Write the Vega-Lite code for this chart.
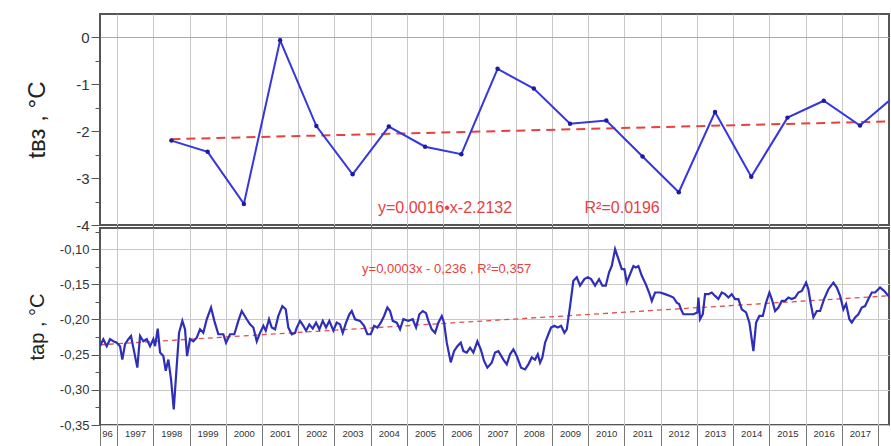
{
"$schema": "https://vega.github.io/schema/vega-lite/v6.json",
"padding": {"left": 24, "top": 13, "right": 0, "bottom": 0},
"bounds": "flush",
"spacing": 3,
"config": {
  "font": "Liberation Sans",
  "view": {"stroke": "#555", "strokeWidth": 2},
  "axis": {"domain": false, "labelColor": "#333", "titleColor": "#222", "gridColor": "#c8c8c8", "tickColor": "#555", "labelFont": "Liberation Sans", "titleFont": "Liberation Sans", "titleFontWeight": "normal", "labelOverlap": false}
},
"datasets": {
  "annual": [
    {"x": 1998.5, "t": -2.20}, {"x": 1999.5, "t": -2.44}, {"x": 2000.5, "t": -3.55}, {"x": 2001.5, "t": -0.06},
    {"x": 2002.5, "t": -1.89}, {"x": 2003.5, "t": -2.92}, {"x": 2004.5, "t": -1.90}, {"x": 2005.5, "t": -2.33},
    {"x": 2006.5, "t": -2.49}, {"x": 2007.5, "t": -0.67}, {"x": 2008.5, "t": -1.09}, {"x": 2009.5, "t": -1.84},
    {"x": 2010.5, "t": -1.77}, {"x": 2011.5, "t": -2.54}, {"x": 2012.5, "t": -3.30}, {"x": 2013.5, "t": -1.59},
    {"x": 2014.5, "t": -2.97}, {"x": 2015.5, "t": -1.71}, {"x": 2016.5, "t": -1.35}, {"x": 2017.5, "t": -1.88},
    {"x": 2018.5, "t": -1.22}
  ],
  "trend1": [{"x": 1998.5, "t": -2.17}, {"x": 2018.5, "t": -1.787}],
  "trend2": [{"x": 1996.53, "v": -0.236}, {"x": 2018.5, "v": -0.1657}],
  "monthly": [
    {"x": 1996.531, "v": -0.2377}, {"x": 1996.622, "v": -0.228}, {"x": 1996.716, "v": -0.238}, {"x": 1996.807, "v": -0.228},
    {"x": 1996.898, "v": -0.231}, {"x": 1996.992, "v": -0.233}, {"x": 1997.083, "v": -0.238}, {"x": 1997.146, "v": -0.257},
    {"x": 1997.221, "v": -0.235}, {"x": 1997.312, "v": -0.228}, {"x": 1997.386, "v": -0.2235}, {"x": 1997.450, "v": -0.240},
    {"x": 1997.560, "v": -0.2685}, {"x": 1997.635, "v": -0.2235}, {"x": 1997.726, "v": -0.231}, {"x": 1997.820, "v": -0.228},
    {"x": 1997.911, "v": -0.238}, {"x": 1998.002, "v": -0.228}, {"x": 1998.049, "v": -0.238}, {"x": 1998.123, "v": -0.213},
    {"x": 1998.187, "v": -0.247}, {"x": 1998.278, "v": -0.252}, {"x": 1998.344, "v": -0.273}, {"x": 1998.416, "v": -0.257},
    {"x": 1998.490, "v": -0.285}, {"x": 1998.565, "v": -0.328}, {"x": 1998.647, "v": -0.266}, {"x": 1998.711, "v": -0.219},
    {"x": 1998.802, "v": -0.202}, {"x": 1998.876, "v": -0.214}, {"x": 1998.932, "v": -0.252}, {"x": 1999.014, "v": -0.228},
    {"x": 1999.105, "v": -0.231}, {"x": 1999.199, "v": -0.226}, {"x": 1999.290, "v": -0.214}, {"x": 1999.381, "v": -0.219},
    {"x": 1999.475, "v": -0.1997}, {"x": 1999.594, "v": -0.183}, {"x": 1999.685, "v": -0.202}, {"x": 1999.795, "v": -0.221},
    {"x": 1999.933, "v": -0.221}, {"x": 2000.008, "v": -0.233}, {"x": 2000.118, "v": -0.221}, {"x": 2000.237, "v": -0.221},
    {"x": 2000.347, "v": -0.202}, {"x": 2000.441, "v": -0.188}, {"x": 2000.579, "v": -0.1997}, {"x": 2000.670, "v": -0.207},
    {"x": 2000.761, "v": -0.2115}, {"x": 2000.855, "v": -0.231}, {"x": 2000.946, "v": -0.219}, {"x": 2001.037, "v": -0.209},
    {"x": 2001.103, "v": -0.216}, {"x": 2001.194, "v": -0.1997}, {"x": 2001.269, "v": -0.2115}, {"x": 2001.360, "v": -0.214},
    {"x": 2001.451, "v": -0.195}, {"x": 2001.561, "v": -0.181}, {"x": 2001.655, "v": -0.1855}, {"x": 2001.727, "v": -0.2115},
    {"x": 2001.821, "v": -0.221}, {"x": 2001.912, "v": -0.219}, {"x": 2001.959, "v": -0.2115}, {"x": 2002.050, "v": -0.202},
    {"x": 2002.141, "v": -0.209}, {"x": 2002.215, "v": -0.216}, {"x": 2002.306, "v": -0.207}, {"x": 2002.400, "v": -0.213},
    {"x": 2002.491, "v": -0.2045}, {"x": 2002.582, "v": -0.214}, {"x": 2002.676, "v": -0.202}, {"x": 2002.767, "v": -0.2115},
    {"x": 2002.858, "v": -0.202}, {"x": 2002.969, "v": -0.216}, {"x": 2003.062, "v": -0.2045}, {"x": 2003.153, "v": -0.207},
    {"x": 2003.228, "v": -0.219}, {"x": 2003.319, "v": -0.2045}, {"x": 2003.410, "v": -0.1926}, {"x": 2003.476, "v": -0.188},
    {"x": 2003.567, "v": -0.1997}, {"x": 2003.705, "v": -0.202}, {"x": 2003.816, "v": -0.209}, {"x": 2003.907, "v": -0.221},
    {"x": 2004.001, "v": -0.221}, {"x": 2004.092, "v": -0.209}, {"x": 2004.183, "v": -0.2115}, {"x": 2004.277, "v": -0.2045},
    {"x": 2004.368, "v": -0.195}, {"x": 2004.459, "v": -0.183}, {"x": 2004.533, "v": -0.188}, {"x": 2004.608, "v": -0.202},
    {"x": 2004.718, "v": -0.2045}, {"x": 2004.809, "v": -0.214}, {"x": 2004.900, "v": -0.1997}, {"x": 2005.038, "v": -0.202},
    {"x": 2005.159, "v": -0.1997}, {"x": 2005.251, "v": -0.2115}, {"x": 2005.342, "v": -0.1926}, {"x": 2005.436, "v": -0.188},
    {"x": 2005.527, "v": -0.191}, {"x": 2005.590, "v": -0.202}, {"x": 2005.684, "v": -0.214}, {"x": 2005.775, "v": -0.219},
    {"x": 2005.866, "v": -0.2045}, {"x": 2005.960, "v": -0.195}, {"x": 2006.023, "v": -0.2045}, {"x": 2006.098, "v": -0.233},
    {"x": 2006.208, "v": -0.261}, {"x": 2006.299, "v": -0.245}, {"x": 2006.390, "v": -0.238}, {"x": 2006.484, "v": -0.233},
    {"x": 2006.556, "v": -0.245}, {"x": 2006.650, "v": -0.247}, {"x": 2006.741, "v": -0.240}, {"x": 2006.832, "v": -0.247},
    {"x": 2006.942, "v": -0.231}, {"x": 2007.036, "v": -0.2425}, {"x": 2007.127, "v": -0.259}, {"x": 2007.218, "v": -0.2685},
    {"x": 2007.339, "v": -0.2614}, {"x": 2007.430, "v": -0.247}, {"x": 2007.522, "v": -0.245}, {"x": 2007.660, "v": -0.257},
    {"x": 2007.753, "v": -0.2638}, {"x": 2007.844, "v": -0.2495}, {"x": 2007.936, "v": -0.2425}, {"x": 2008.029, "v": -0.252},
    {"x": 2008.148, "v": -0.2685}, {"x": 2008.258, "v": -0.271}, {"x": 2008.349, "v": -0.2638}, {"x": 2008.443, "v": -0.254},
    {"x": 2008.534, "v": -0.257}, {"x": 2008.609, "v": -0.2495}, {"x": 2008.672, "v": -0.2614}, {"x": 2008.736, "v": -0.254},
    {"x": 2008.810, "v": -0.233}, {"x": 2008.901, "v": -0.221}, {"x": 2008.976, "v": -0.2115}, {"x": 2009.067, "v": -0.209},
    {"x": 2009.161, "v": -0.2115}, {"x": 2009.252, "v": -0.209}, {"x": 2009.343, "v": -0.219}, {"x": 2009.409, "v": -0.214},
    {"x": 2009.500, "v": -0.181}, {"x": 2009.591, "v": -0.145}, {"x": 2009.685, "v": -0.140}, {"x": 2009.776, "v": -0.152},
    {"x": 2009.895, "v": -0.1427}, {"x": 2009.989, "v": -0.140}, {"x": 2010.080, "v": -0.1427}, {"x": 2010.190, "v": -0.152},
    {"x": 2010.300, "v": -0.1427}, {"x": 2010.392, "v": -0.152}, {"x": 2010.485, "v": -0.152}, {"x": 2010.576, "v": -0.133},
    {"x": 2010.651, "v": -0.124}, {"x": 2010.742, "v": -0.100}, {"x": 2010.833, "v": -0.114}, {"x": 2010.927, "v": -0.1285},
    {"x": 2010.999, "v": -0.1285}, {"x": 2011.065, "v": -0.1475}, {"x": 2011.156, "v": -0.1356}, {"x": 2011.247, "v": -0.124},
    {"x": 2011.313, "v": -0.126}, {"x": 2011.385, "v": -0.124}, {"x": 2011.479, "v": -0.138}, {"x": 2011.589, "v": -0.150},
    {"x": 2011.680, "v": -0.1617}, {"x": 2011.755, "v": -0.1736}, {"x": 2011.846, "v": -0.1617}, {"x": 2011.984, "v": -0.1617},
    {"x": 2012.122, "v": -0.164}, {"x": 2012.260, "v": -0.1665}, {"x": 2012.351, "v": -0.1688}, {"x": 2012.444, "v": -0.176},
    {"x": 2012.508, "v": -0.178}, {"x": 2012.582, "v": -0.188}, {"x": 2012.627, "v": -0.1926}, {"x": 2012.720, "v": -0.1926},
    {"x": 2012.903, "v": -0.1926}, {"x": 2013.013, "v": -0.190}, {"x": 2013.041, "v": -0.169}, {"x": 2013.087, "v": -0.1997},
    {"x": 2013.162, "v": -0.1926}, {"x": 2013.225, "v": -0.164}, {"x": 2013.317, "v": -0.164}, {"x": 2013.410, "v": -0.1617},
    {"x": 2013.501, "v": -0.1665}, {"x": 2013.592, "v": -0.171}, {"x": 2013.686, "v": -0.1617}, {"x": 2013.777, "v": -0.164},
    {"x": 2013.868, "v": -0.1688}, {"x": 2013.962, "v": -0.164}, {"x": 2014.053, "v": -0.171}, {"x": 2014.144, "v": -0.171},
    {"x": 2014.238, "v": -0.1855}, {"x": 2014.357, "v": -0.190}, {"x": 2014.448, "v": -0.2045}, {"x": 2014.558, "v": -0.245},
    {"x": 2014.633, "v": -0.2045}, {"x": 2014.724, "v": -0.195}, {"x": 2014.818, "v": -0.195}, {"x": 2014.909, "v": -0.176},
    {"x": 2015.000, "v": -0.1617}, {"x": 2015.066, "v": -0.171}, {"x": 2015.157, "v": -0.188}, {"x": 2015.248, "v": -0.183},
    {"x": 2015.342, "v": -0.1736}, {"x": 2015.433, "v": -0.1736}, {"x": 2015.524, "v": -0.1688}, {"x": 2015.618, "v": -0.171},
    {"x": 2015.709, "v": -0.1688}, {"x": 2015.800, "v": -0.1617}, {"x": 2015.894, "v": -0.1594}, {"x": 2016.012, "v": -0.1475},
    {"x": 2016.076, "v": -0.157}, {"x": 2016.142, "v": -0.178}, {"x": 2016.214, "v": -0.197}, {"x": 2016.308, "v": -0.188},
    {"x": 2016.399, "v": -0.188}, {"x": 2016.509, "v": -0.171}, {"x": 2016.628, "v": -0.157}, {"x": 2016.766, "v": -0.1475},
    {"x": 2016.860, "v": -0.1546}, {"x": 2016.951, "v": -0.1665}, {"x": 2017.042, "v": -0.1855}, {"x": 2017.116, "v": -0.178},
    {"x": 2017.207, "v": -0.1997}, {"x": 2017.273, "v": -0.2045}, {"x": 2017.364, "v": -0.197}, {"x": 2017.455, "v": -0.1926},
    {"x": 2017.549, "v": -0.183}, {"x": 2017.640, "v": -0.181}, {"x": 2017.732, "v": -0.171}, {"x": 2017.825, "v": -0.1617},
    {"x": 2017.916, "v": -0.1617}, {"x": 2018.054, "v": -0.1546}, {"x": 2018.165, "v": -0.1594}, {"x": 2018.283, "v": -0.1665},
    {"x": 2018.358, "v": -0.171}, {"x": 2018.45, "v": -0.178}
  ]
},
"vconcat": [
  {
    "width": 789, "height": 211,
    "encoding": {
      "x": {"field": "x", "type": "quantitative", "scale": {"domain": [1996.53, 2018.3], "nice": false, "zero": false},
        "axis": {"values": [1997,1998,1999,2000,2001,2002,2003,2004,2005,2006,2007,2008,2009,2010,2011,2012,2013,2014,2015,2016,2017,2018],
                 "labels": false, "ticks": true, "tickSize": 7, "tickColor": "#555", "grid": true, "title": null}},
      "y": {"field": "t", "type": "quantitative", "scale": {"domain": [-4, 0.5], "nice": false, "zero": false},
        "axis": {"values": [-4,-3.5,-3,-2.5,-2,-1.5,-1,-0.5,0],
                 "labelExpr": "datum.value % 1 === 0 ? '' + datum.value : ''",
                 "labelFontSize": 15, "labelPadding": 2, "labelOverlap": false,
                 "tickSize": {"condition": {"test": "datum.value % 1 !== 0", "value": 5}, "value": 9},
                 "grid": true, "gridColor": "#aaaaaa",
                 "gridOpacity": {"condition": {"test": "datum.value === 0", "value": 1}, "value": 0},
                 "title": "tвз , °C", "titleFontSize": 24, "titlePadding": 26}}
    },
    "layer": [
      {"data": {"name": "trend1"}, "mark": {"type": "line", "color": "#e8403f", "strokeWidth": 2, "strokeDash": [9, 6], "clip": true}},
      {"data": {"name": "annual"}, "mark": {"type": "line", "color": "#3636e0", "strokeWidth": 2, "clip": true}},
      {"data": {"name": "annual"}, "mark": {"type": "point", "filled": true, "color": "#1c1c9c", "size": 20, "opacity": 1, "clip": true}},
      {"data": {"values": [{"x": 2004.2, "t": -3.64, "label": "y=0.0016•x-2.2132"}, {"x": 2009.9, "t": -3.64, "label": "R²=0.0196"}]},
       "mark": {"type": "text", "align": "left", "baseline": "middle", "fontSize": 16, "color": "#e8403f"},
       "encoding": {"text": {"field": "label"}}}
    ]
  },
  {
    "width": 789, "height": 197,
    "encoding": {
      "x": {"field": "x", "type": "quantitative", "scale": {"domain": [1996.53, 2018.3], "nice": false, "zero": false},
        "axis": {"values": [1996.53,1997,1998,1999,2000,2001,2002,2003,2004,2005,2006,2007,2008,2009,2010,2011,2012,2013,2014,2015,2016,2017,2018],
                 "labelExpr": "datum.value < 1997 ? '96' : (datum.value > 2017 ? '' : '' + datum.value)",
                 "labelFontSize": 9.5, "labelColor": "#333", "labelOverlap": false, "labelBound": false, "labelFlush": false,
                 "labelOffset": {"condition": {"test": "datum.value < 1997", "value": 7}, "value": 18},
                 "labelPadding": -13, "labelBaseline": "middle",
                 "ticks": true, "tickSize": 21, "tickColor": "#777",
                 "grid": true,
                 "gridOpacity": {"condition": {"test": "datum.value < 1997", "value": 0}, "value": 1},
                 "title": null}},
      "y": {"field": "v", "type": "quantitative", "scale": {"domain": [-0.35, -0.07], "nice": false, "zero": false},
        "axis": {"values": [-0.35,-0.325,-0.3,-0.275,-0.25,-0.225,-0.2,-0.175,-0.15,-0.125,-0.1,-0.075],
                 "labelExpr": "round(datum.value*1000) % 50 === 0 ? ((datum.value < 0 ? '-' : '') + replace(format(abs(datum.value), '.2f'), '.', ',')) : ''",
                 "labelFontSize": 13, "labelPadding": 2, "labelOverlap": false,
                 "tickSize": {"condition": {"test": "round(datum.value*1000) % 50 !== 0", "value": 5}, "value": 9},
                 "grid": true,
                 "gridOpacity": {"condition": {"test": "round(datum.value*1000) % 50 === 0", "value": 1}, "value": 0},
                 "title": "tар , °C", "titleFontSize": 20, "titlePadding": 12}}
    },
    "layer": [
      {"data": {"name": "trend2"}, "mark": {"type": "line", "color": "#e05050", "strokeWidth": 1.3, "strokeDash": [5, 4], "clip": true}},
      {"data": {"name": "monthly"}, "mark": {"type": "line", "color": "#2e2eb8", "strokeWidth": 2.2, "clip": true}},
      {"data": {"values": [{"x": 2003.76, "v": -0.1285, "label": "y=0,0003x - 0,236 , R²=0,357"}]},
       "mark": {"type": "text", "align": "left", "baseline": "middle", "fontSize": 13, "color": "#e8403f"},
       "encoding": {"text": {"field": "label"}}}
    ]
  }
]
}
